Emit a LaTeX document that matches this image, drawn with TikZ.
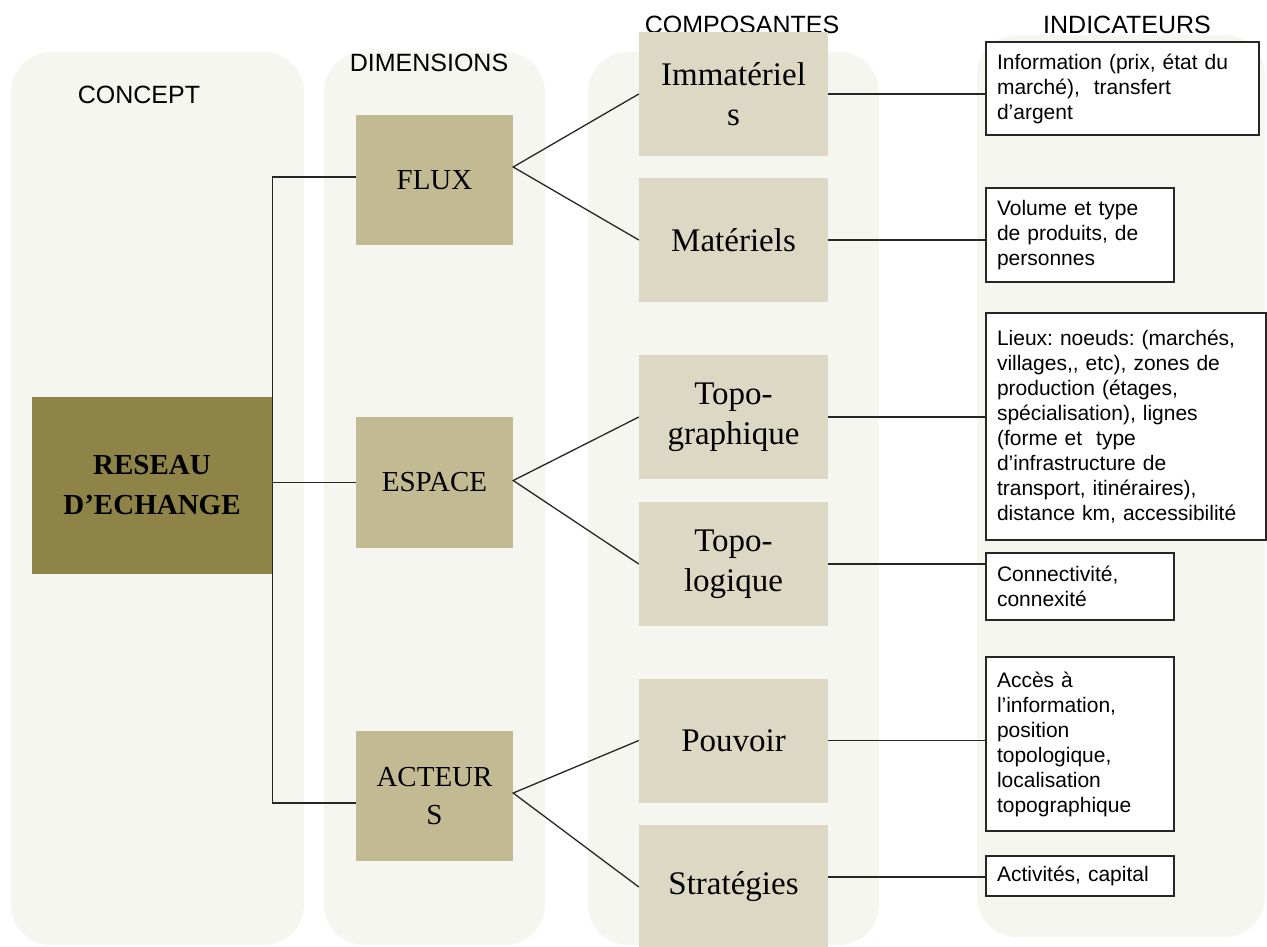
\documentclass[tikz,border=0pt]{standalone}
\usepackage{fontspec}
\setmainfont{Liberation Serif}
\setsansfont{Liberation Sans}
\frenchspacing
\begin{document}
\begin{tikzpicture}[x=1pt,y=-1pt,
  colbg/.style={fill={rgb,255:red,246;green,246;blue,241}, rounded corners=40pt},
  header/.style={font=\sffamily\fontsize{25}{30}\selectfont, inner sep=0pt, anchor=center},
  concept/.style={fill={rgb,255:red,142;green,132;blue,72}, minimum width=240pt, minimum height=177pt, inner sep=0pt, align=center, font=\bfseries\fontsize{29}{40}\selectfont},
  dimbox/.style={fill={rgb,255:red,194;green,186;blue,146}, minimum width=157pt, minimum height=130pt, inner sep=0pt, align=center, font=\fontsize{29}{38}\selectfont},
  compbox/.style={fill={rgb,255:red,221;green,216;blue,196}, minimum width=189pt, minimum height=124pt, inner sep=0pt, align=center, font=\fontsize{33}{40}\selectfont},
  indbox/.style={draw=black!85, line width=1.3pt, fill=white, inner xsep=11pt, inner ysep=0pt, align=left, font=\sffamily\fontsize{21}{25}\selectfont},
  link/.style={draw=black!85, line width=1.3pt}
]
\useasboundingbox (0,0) rectangle (1267,946);
% column backgrounds
\fill[colbg] (11,52) rectangle (304,945);
\fill[colbg] (324,52) rectangle (545,945);
\fill[colbg] (588,52) rectangle (879,945);
\fill[colbg] (977,35) rectangle (1265,937);
% headers
\node[header] (hconcept) at (139,95) {CONCEPT};
\node[header] (hdim) at (429,63) {DIMENSIONS};
\node[header] (hcomp) at (742,25) {COMPOSANTES};
\node[header] (hind) at (1127,25) {INDICATEURS};
% concept
\node[concept] (reseau) at (152,485.5) {RESEAU\\D’ECHANGE};
% dimensions
\node[dimbox] (flux) at (434.5,180) {FLUX};
\node[dimbox, minimum height=131pt] (espace) at (434.5,482.5) {ESPACE};
\node[dimbox] (acteurs) at (434.5,796) {ACTEUR\\S};
% composantes
\node[compbox] (imm) at (733.5,94) {Immatériel\\s};
\node[compbox] (mat) at (733.5,240) {Matériels};
\node[compbox] (tgraph) at (733.5,417) {Topo-\\graphique};
\node[compbox] (tlog) at (733.5,564) {Topo-\\logique};
\node[compbox] (pouv) at (733.5,740.5) {Pouvoir};
\node[compbox] (strat) at (733.5,887) {Stratégies};
% indicateurs
\node[indbox, text width=251pt, minimum height=93pt] (iinfo) at (1122.5,88.5) {Information (prix, état du\\marché),\ \ transfert\\d'argent};
\node[indbox, text width=166pt, minimum height=94pt] (ivol) at (1080,235) {Volume et type\\de produits, de\\personnes};
\node[indbox, text width=258pt, minimum height=227pt] (ilieux) at (1126,426.5) {Lieux: noeuds: (marchés,\\villages,{},\ etc), zones de\\production (étages,\\spécialisation), lignes\\(forme et\ \ type\\d'infrastructure de\\transport, itinéraires),\\distance km, accessibilité};
\node[indbox, text width=166pt, minimum height=67pt] (iconn) at (1080,586.5) {Connectivité,\\connexité};
\node[indbox, text width=166pt, minimum height=174pt] (iacc) at (1080,744) {Accès à\\l’information,\\position\\topologique,\\localisation\\topographique};
\node[indbox, text width=166pt, minimum height=40pt] (iact) at (1080,876) {Activités, capital};
% tree from concept to dimensions
\draw[link] ([yshift=3pt]flux.west) -- ([yshift=3pt]flux.west -| reseau.east) -- ([yshift=-7pt]acteurs.west -| reseau.east) -- ([yshift=-7pt]acteurs.west);
\draw[link] (espace.west -| reseau.east) -- (espace.west);
% fans
\draw[link] (imm.west) -- ([yshift=13pt]flux.east) -- (mat.west);
\draw[link] (tgraph.west) -- ([yshift=2pt]espace.east) -- (tlog.west);
\draw[link] (pouv.west) -- ([yshift=3pt]acteurs.east) -- (strat.west);
% composantes to indicateurs
\draw[link] (imm.east) -- (imm.east -| iinfo.west);
\draw[link] (mat.east) -- (mat.east -| ivol.west);
\draw[link] (tgraph.east) -- (tgraph.east -| ilieux.west);
\draw[link] (tlog.east) -- (tlog.east -| iconn.west);
\draw[link] (pouv.east) -- (pouv.east -| iacc.west);
\draw[link] ([yshift=10pt]strat.east) -- ([yshift=10pt]strat.east -| iact.west);
\end{tikzpicture}
\end{document}
